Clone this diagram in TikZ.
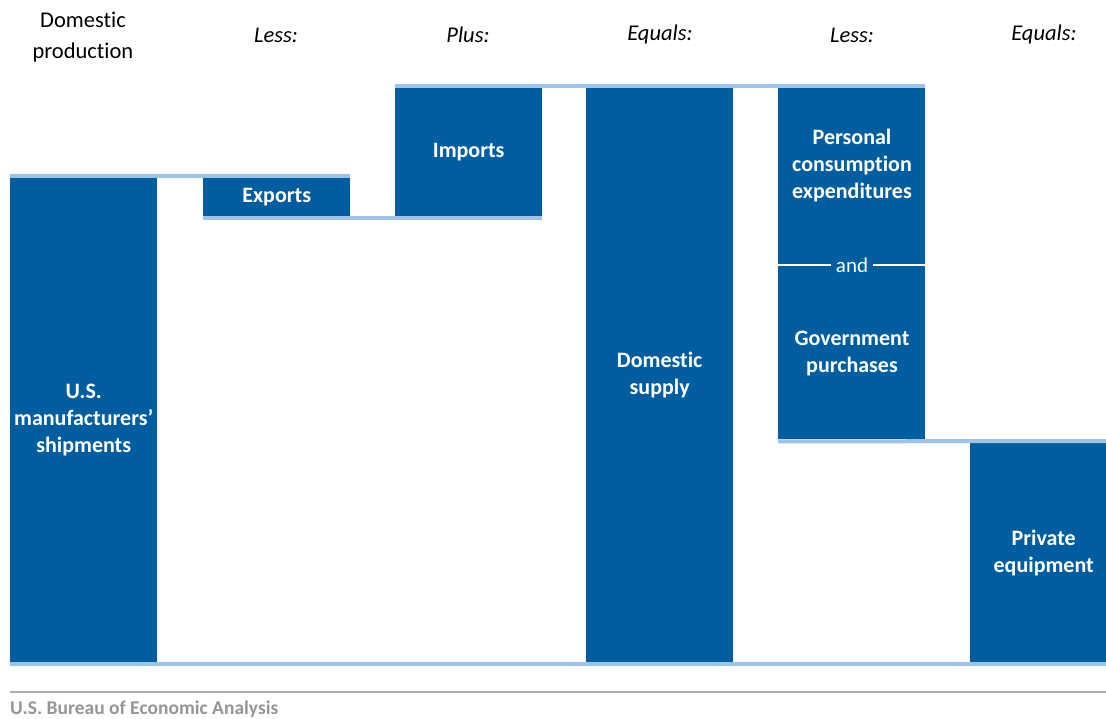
\documentclass[tikz,border=0pt]{standalone}
\usepackage{fontspec}
\setmainfont{Carlito}[Ligatures=NoCommon]
\usetikzlibrary{calc}
\definecolor{barblue}{RGB}{0,94,160}
\definecolor{levelblue}{RGB}{157,195,230}
\definecolor{footgray}{RGB}{150,150,150}
\definecolor{footline}{RGB}{170,170,170}
\tikzset{
  bar/.style={fill=barblue,draw=none,inner sep=0pt,anchor=north west,minimum width=147pt},
  barlabel/.style={text=white,font=\fontsize{22}{27}\selectfont\bfseries,align=center},
  head/.style={font=\fontsize{22.5}{31}\selectfont,align=center},
  level/.style={draw=levelblue,line width=4pt},
}
\begin{document}
\begin{tikzpicture}[x=1pt,y=-1pt]
\useasboundingbox (0,0) rectangle (1106,719);
		% top left corners of the bars
		\coordinate (A) at (10,178);
		\coordinate (B) at (203,178);
		\coordinate (C) at (395,88);
		\coordinate (D) at (586,88);
		\coordinate (E) at (778,88);
		\coordinate (F) at (970,443);
		\node[bar,minimum height=484pt] (ship) at (A) {};
		\node[bar,minimum height=38pt] (exports) at (B) {};
		\node[bar,minimum height=128pt] (imports) at (C) {};
		\node[bar,minimum height=574pt] (supply) at (D) {};
		\node[bar,minimum height=351pt] (pce) at (E) {};
		\node[bar,minimum height=219pt] (private) at (F) {};
		% levels
		\draw[level] ([yshift=2pt]ship.north west) -- ([yshift=2pt]exports.north east);
		\draw[level] ([yshift=-2pt]exports.south west) -- ([yshift=-2pt]imports.south east);
		\draw[level] ([yshift=2pt]imports.north west) -- ([yshift=2pt]pce.north east);
		\draw[level] ([yshift=-2pt]pce.south west) -- ([yshift=2pt]private.north east);
		\draw[level] ([yshift=-2pt]ship.south west) -- ([yshift=-2pt]private.south east);
		% labels in the bars
		\node[barlabel] (shipL) at (ship.center) {U.S.\\manufacturers’\\shipments};
		\node[barlabel] (exportsL) at (exports.center) {Exports};
		\node[barlabel] (importsL) at (imports.center) {Imports};
		\node[barlabel] (supplyL) at (supply.center) {Domestic\\supply};
		\node[barlabel] (pceL) at (852,166) {Personal\\consumption\\expenditures};
		\node[barlabel,font=\fontsize{21}{27}\selectfont,inner sep=5pt] (and) at (852,265) {and};
		\node[barlabel] (govL) at (852,354) {Government\\purchases};
		\node[barlabel] (privateL) at (private.center) {Private\\equipment};
		\draw[white,line width=1.6pt] (pce.west |- and) -- (and.west);
		\draw[white,line width=1.6pt] (and.east) -- (pce.east |- and);
		% headings
		\node[head] (h1) at (83,37) {Domestic\\production};
		\node[head] (h2) at (276,35) {\itshape Less:};
		\node[head] (h3) at (468,35) {\itshape Plus:};
		\node[head] (h4) at (660,35) {\itshape Equals:};
		\node[head] (h5) at (852,35) {\itshape Less:};
		\node[head] (h6) at (1044,35) {\itshape Equals:};
		% source
		\coordinate (G) at (10,692);
		\coordinate (H) at (1106,692);
		\draw[footline,line width=1.8pt] (G) -- (H);
		\node[anchor=base west,inner sep=0pt,text=footgray,font=\fontsize{19.5}{20}\selectfont\bfseries] (bea) at (10,714) {U.S. Bureau of Economic Analysis};
\end{tikzpicture}
\end{document}
